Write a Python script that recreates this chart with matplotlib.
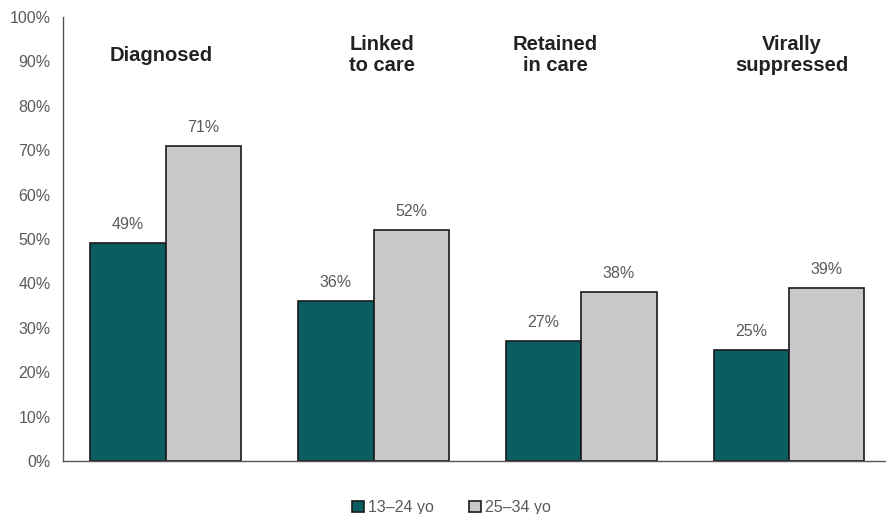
import matplotlib.pyplot as plt
import numpy as np

stages = ['Diagnosed', 'Linked\nto care', 'Retained\nin care', 'Virally\nsuppressed']
young = [49, 36, 27, 25]
older = [71, 52, 38, 39]
series_names = ['13–24 yo', '25–34 yo']
yticks = list(range(0, 101, 10))

# label centres (x offsets from group centre, in group units) as seen in picture
label_x = [-0.02, 0.04, -0.125, 0.015]

plt.rcParams['font.family'] = ['Liberation Sans', 'DejaVu Sans']

fig = plt.figure(figsize=(8.86, 5.14), dpi=100)
ax = fig.add_axes([63 / 886, 53 / 514, (885 - 63) / 886, (461 - 17) / 514])

x = np.arange(len(stages))
w = 0.363
teal = '#0a5e60'
gray = '#c8c8ca'

b1 = ax.bar(x - w / 2, young, w, color=teal, edgecolor='#1a1a1a', linewidth=1.2, label=series_names[0])
b2 = ax.bar(x + w / 2, older, w, color=gray, edgecolor='#1a1a1a', linewidth=1.2, label=series_names[1])

for bars, vals in [(b1, young), (b2, older)]:
    for rect, v in zip(bars, vals):
        ax.text(rect.get_x() + rect.get_width() / 2, v + 2.5, f'{v}%',
                ha='center', va='bottom', fontsize=11.5, color='#5a5a5a')

for i, s in enumerate(stages):
    ax.text(i + label_x[i], 91.4, s, ha='center', va='center', fontsize=14.5,
            fontweight='bold', color='#222222', multialignment='center',
            linespacing=1.15)

ax.set_xlim(-0.495, 3.462)
ax.set_ylim(0, 100)
ax.set_yticks(yticks)
ax.set_yticklabels([f'{t}%' for t in yticks], fontsize=11.5, color='#5a5a5a')
ax.set_xticks([])
ax.tick_params(axis='y', length=0, pad=9)
for side in ['top', 'right']:
    ax.spines[side].set_visible(False)
for side in ['left', 'bottom']:
    ax.spines[side].set_color('#555555')
    ax.spines[side].set_linewidth(1.0)

fig.legend(handles=[b1, b2], labels=series_names, loc='lower center',
           bbox_to_anchor=(451 / 886, -0.03), ncol=2, frameon=False,
           fontsize=11.5, handlelength=0.75, handleheight=0.75,
           handletextpad=0.25, columnspacing=2.2, labelcolor='#5a5a5a')

fig.savefig('out.png', dpi=100)
